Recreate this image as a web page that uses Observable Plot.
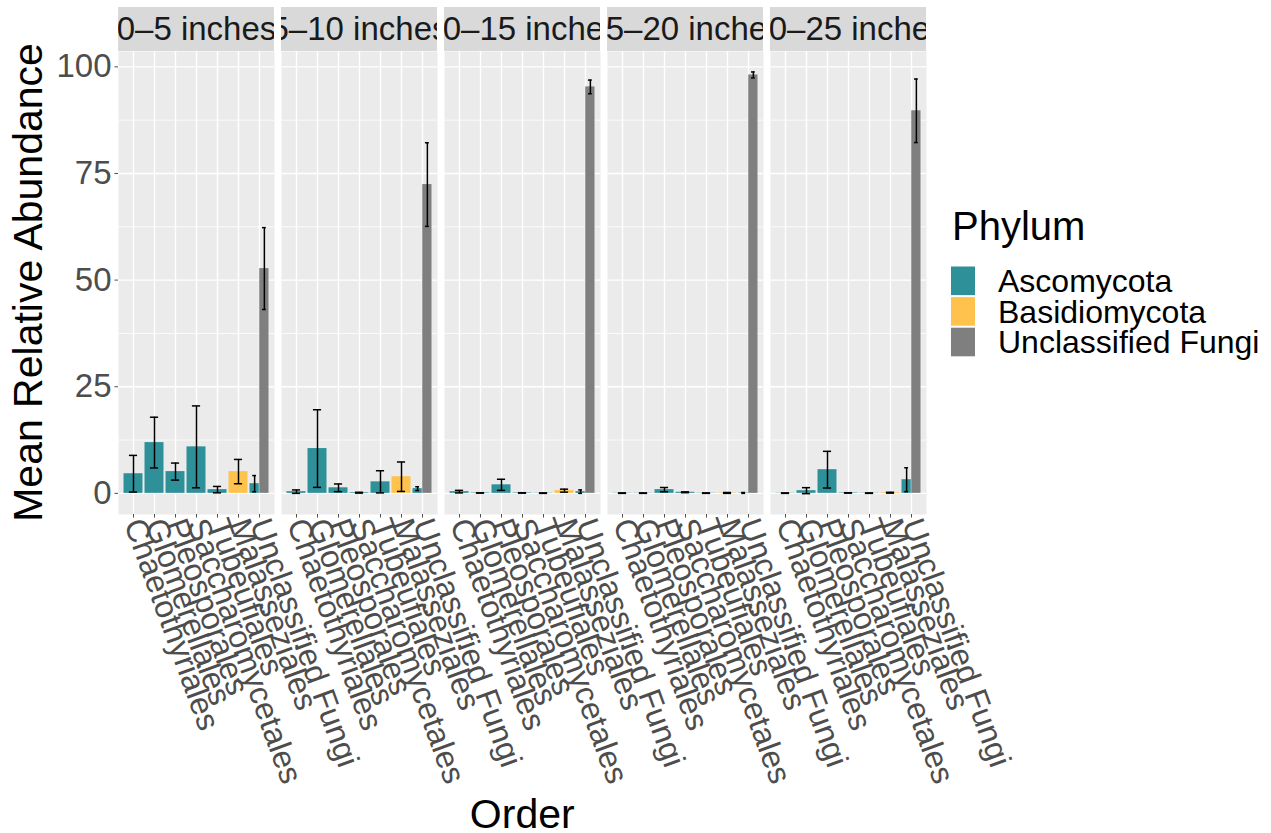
<!DOCTYPE html>
<html>
<head>
<meta charset="utf-8">
<script src="https://cdn.jsdelivr.net/npm/d3@7"></script>
<script src="https://cdn.jsdelivr.net/npm/@observablehq/plot@0.6"></script>
<style>
  html, body { margin: 0; padding: 0; background: #ffffff; }
  #chart { position: relative; width: 1271px; height: 833px; }
</style>
</head>
<body>
<div id="chart"></div>
<script>
// ---------------- data ----------------
const depths = ["0–5 inches", "5–10 inches", "10–15 inches", "15–20 inches", "20–25 inches"];
const orders = ["Chaetothyriales", "Glomerellales", "Pleosporales", "Saccharomycetales", "Tubeufiales", "Malasseziales", "Unclassified Fungi"];
const phyla = ["Ascomycota", "Basidiomycota", "Unclassified Fungi"];
const phylumColors = ["#2E9199", "#FFC34D", "#7F7F7F"];
const yTicks = [0, 25, 50, 75, 100];
const yMinorTicks = [12.5, 37.5, 62.5, 87.5];

// Ascomycota orders (one row per depth)
const ascoOrders = ["Chaetothyriales", "Glomerellales", "Pleosporales", "Saccharomycetales", "Tubeufiales", "Unclassified Fungi"];
const ascoMean = [
  [4.6, 11.9, 5.1, 10.9, 0.87, 2.27],
  [0.4, 10.5, 1.3, 0.15, 2.7, 1.1],
  [0.4, 0.1, 2.0, 0.1, 0.05, 0.4],
  [0.05, 0.05, 0.87, 0.25, 0.05, 0.1],
  [0.05, 0.63, 5.55, 0.1, 0.05, 3.2]
];
const ascoSE = [
  [4.3, 5.95, 2.0, 9.6, 0.75, 1.9],
  [0.4, 9.1, 0.9, 0.1, 2.6, 0.45],
  [0.3, 0.05, 1.3, 0.05, 0.05, 0.4],
  [0.05, 0.05, 0.5, 0.1, 0.05, 0.1],
  [0.05, 0.7, 4.3, 0.05, 0.05, 2.8]
];
// Basidiomycota: Malasseziales
const basidioMean = [5.1, 3.9, 0.63, 0.1, 0.15];
const basidioSE = [2.85, 3.45, 0.35, 0.1, 0.1];
// Unclassified Fungi phylum: Unclassified Fungi order
const unclMean = [52.7, 72.4, 95.3, 98.1, 89.7];
const unclSE = [9.6, 9.8, 1.6, 0.7, 7.45];

// ---------------- table ----------------
const rows = [];
depths.forEach((depth, i) => {
  ascoOrders.forEach((order, j) => rows.push({depth, order, phylum: "Ascomycota", mean: ascoMean[i][j], se: ascoSE[i][j]}));
  rows.push({depth, order: "Malasseziales", phylum: "Basidiomycota", mean: basidioMean[i], se: basidioSE[i]});
  rows.push({depth, order: "Unclassified Fungi", phylum: "Unclassified Fungi", mean: unclMean[i], se: unclSE[i]});
});
// dodge slots (like position_dodge)
const groups = d3.group(rows, d => d.depth + "|" + d.order);
for (const g of groups.values()) {
  if (g.length === 1) g[0].slot = "full";
  else {
    g.sort((a, b) => phyla.indexOf(a.phylum) - phyla.indexOf(b.phylum));
    g.forEach((d, k) => d.slot = k === 0 ? "left" : "right");
  }
}
rows.forEach(d => { d.lo = d.mean - d.se; d.hi = d.mean + d.se; });

// ---------------- layout ----------------
const W = 1271, H = 833;
const mL = 117.5, mR = 344, mT = 51, mB = 319;
const fxPad = 0.045;
const fxBand = (W - mL - mR) / (depths.length - fxPad) * (1 - fxPad);
const step = fxBand / (orders.length - 0.1 + 0.3);
const bw = step * 0.9;
const half = bw / 2;
const capFull = step * 0.4;
const capHalf = step * 0.2;
const stripH = 44;
const font = "'Liberation Sans', Arial, Helvetica, sans-serif";

const full = rows.filter(d => d.slot === "full");
const left = rows.filter(d => d.slot === "left");
const right = rows.filter(d => d.slot === "right");

let clipCount = 0;
function stripRender(index, scales, values, dimensions, context, next) {
  const g = next(index, scales, values, dimensions, context);
  const ns = "http://www.w3.org/2000/svg";
  const {marginLeft, marginRight, marginTop, width} = dimensions;
  const x0 = marginLeft, w = width - marginLeft - marginRight;
  const id = "strip-clip-" + (clipCount++);
  const wrap = document.createElementNS(ns, "g");
  const bg = document.createElementNS(ns, "rect");
  bg.setAttribute("x", x0); bg.setAttribute("y", marginTop - stripH);
  bg.setAttribute("width", w); bg.setAttribute("height", stripH);
  bg.setAttribute("fill", "#D9D9D9");
  wrap.appendChild(bg);
  const cp = document.createElementNS(ns, "clipPath");
  cp.setAttribute("id", id);
  const r = bg.cloneNode();
  cp.appendChild(r);
  wrap.appendChild(cp);
  const inner = document.createElementNS(ns, "g");
  inner.setAttribute("clip-path", `url(#${id})`);
  inner.appendChild(g);
  wrap.appendChild(inner);
  return wrap;
}

function errMarks(data, offset, capW) {
  const common = {fx: "depth", x: "order", stroke: "black", strokeWidth: 1.5};
  const insetLeft = bw / 2 + offset - capW / 2;
  const insetRight = bw / 2 - offset - capW / 2;
  return [
    Plot.ruleX(data, {...common, y1: "lo", y2: "hi", dx: offset}),
    Plot.tickY(data, {...common, y: "lo", insetLeft, insetRight}),
    Plot.tickY(data, {...common, y: "hi", insetLeft, insetRight})
  ];
}

const plot = Plot.plot({
  width: W, height: H,
  marginLeft: mL, marginRight: mR, marginTop: mT, marginBottom: mB,
  style: {fontFamily: font, background: "white", overflow: "visible"},
  fx: {domain: depths, paddingInner: fxPad, paddingOuter: 0, axis: null},
  x: {domain: orders, paddingInner: 0.1, paddingOuter: 0.15},
  y: {domain: [-4.96, 103.6]},
  color: {domain: phyla, range: phylumColors},
  marks: [
    Plot.frame({fill: "#EBEBEB", stroke: "none"}),
    Plot.text(depths, {fx: d => d, text: d => d, frameAnchor: "top", dy: -22, lineAnchor: "middle",
      fontSize: 33, fill: "#1A1A1A", render: stripRender}),
    Plot.gridY({ticks: yMinorTicks, stroke: "white", strokeOpacity: 1, strokeWidth: 0.8}),
    Plot.gridY({ticks: yTicks, stroke: "white", strokeOpacity: 1, strokeWidth: 1.4}),
    Plot.gridX({stroke: "white", strokeOpacity: 1, strokeWidth: 1.4}),
    Plot.barY(full, {fx: "depth", x: "order", y: "mean", fill: "phylum"}),
    Plot.barY(left, {fx: "depth", x: "order", y: "mean", fill: "phylum", insetRight: half}),
    Plot.barY(right, {fx: "depth", x: "order", y: "mean", fill: "phylum", insetLeft: half}),
    ...errMarks(full, 0, capFull),
    ...errMarks(left, -bw / 4, capHalf),
    ...errMarks(right, bw / 4, capHalf),
    Plot.axisY({ticks: yTicks, tickSize: 3.5, tickPadding: 3.5, fontSize: 33, color: "#4D4D4D", label: null}),
    Plot.axisX({tickSize: 3.5, tickPadding: 2, tickRotate: 70, fontSize: 32, color: "#4D4D4D", label: null,
      textAnchor: "start", lineAnchor: "middle"})
  ]
});

document.getElementById("chart").appendChild(plot);

// ---------------- titles & legend ----------------
const svg = d3.select(plot);
svg.append("text")
  .attr("transform", `translate(42,${mT + (H - mT - mB) / 2}) rotate(-90)`)
  .attr("text-anchor", "middle").attr("font-size", 41).attr("fill", "black")
  .attr("font-family", font).text("Mean Relative Abundance");
svg.append("text")
  .attr("x", mL + (W - mL - mR) / 2).attr("y", 828)
  .attr("text-anchor", "middle").attr("font-size", 41).attr("fill", "black")
  .attr("font-family", font).text("Order");

const colorScale = plot.scale("color");
const lg = svg.append("g").attr("font-family", font).attr("text-anchor", "start");
lg.append("text").attr("x", 952).attr("y", 240).attr("font-size", 40).attr("fill", "black")
  .attr("text-anchor", "start").text("Phylum");
colorScale.domain.forEach((p, i) => {
  const y0 = 266.5 + i * 30.6;
  lg.append("rect").attr("x", 951).attr("y", y0).attr("width", 24).attr("height", 28.6)
    .attr("fill", colorScale.range[i]);
  lg.append("text").attr("x", 998).attr("y", y0 + 14.3 + 11.2).attr("font-size", 32).attr("fill", "black")
    .attr("text-anchor", "start").text(p);
});
</script>
</body>
</html>
